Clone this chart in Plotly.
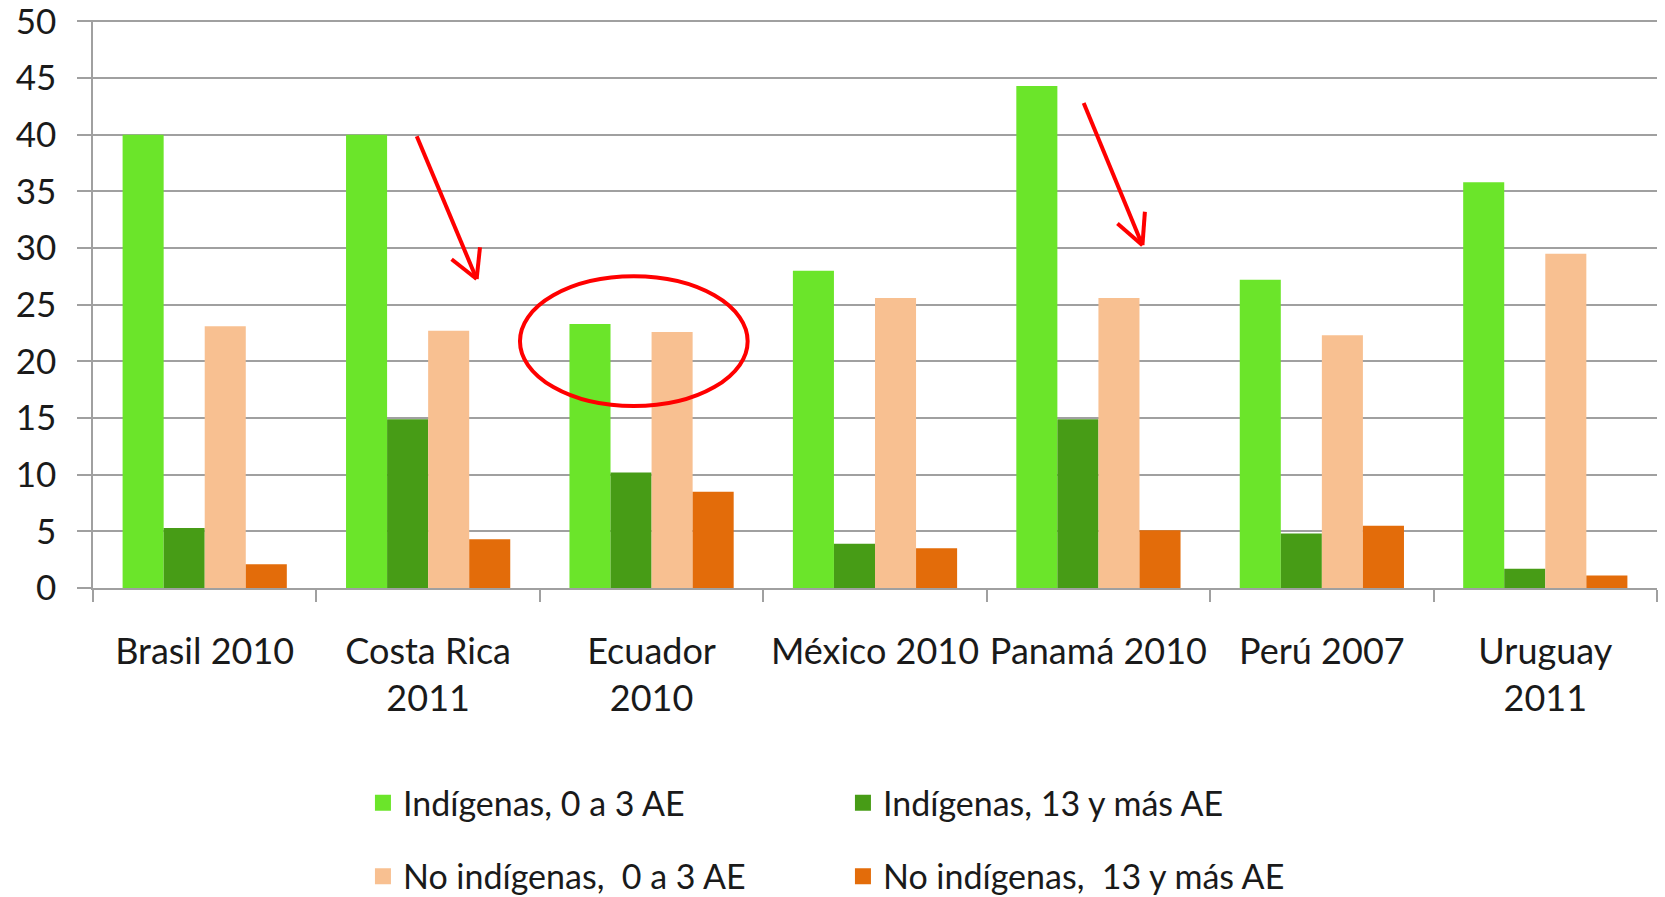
import plotly.graph_objects as go

countries = ["Brasil 2010", "Costa Rica 2011", "Ecuador 2010", "México 2010",
             "Panamá 2010", "Perú 2007", "Uruguay 2011"]
tick_labels = ["Brasil 2010", "Costa Rica<br>2011", "Ecuador<br>2010", "México 2010",
               "Panamá 2010", "Perú 2007", "Uruguay<br>2011"]

series_names = ["Indígenas, 0 a 3 AE", "Indígenas, 13 y más AE",
                "No indígenas,  0 a 3 AE", "No indígenas,  13 y más AE"]
ind_0_3 = [40.0, 40.0, 23.3, 28.0, 44.3, 27.2, 35.8]
ind_13 = [5.3, 14.9, 10.2, 3.9, 14.9, 4.8, 1.7]
noind_0_3 = [23.1, 22.7, 22.6, 25.6, 25.6, 22.3, 29.5]
noind_13 = [2.1, 4.3, 8.5, 3.5, 5.1, 5.5, 1.1]
colors = ["#6BE52A", "#479C16", "#F8C091", "#E36C0A"]

y_ticks = list(range(0, 51, 5))

FONT = "Lato"
GRID = "#A0A0A0"
RED = "#FF0000"

fig = go.Figure()
all_series = [ind_0_3, ind_13, noind_0_3, noind_13]
legends = ["legend", "legend", "legend2", "legend2"]
for name, vals, col, lg in zip(series_names, all_series, colors, legends):
    fig.add_trace(go.Bar(x=tick_labels, y=vals, name=name, marker=dict(color=col, line=dict(width=0)),
                         showlegend=False, legendgroup=name))
    fig.add_trace(go.Scatter(x=[None], y=[None], mode="markers", name=name, legendgroup=name,
                             marker=dict(symbol="square", size=16, color=col), legend=lg,
                             showlegend=True))

# annotations: red hand-drawn arrows (tail, tip, wing1, wing2) and ellipse
arrows = [
    ((0.949, 39.86), (1.217, 27.27), (1.105, 29.01), (1.232, 30.07)),
    ((3.934, 42.79), (4.197, 30.25), (4.085, 32.16), (4.208, 33.20)),
]
for tail, tip, w1, w2 in arrows:
    for start in (tail, w1, w2):
        fig.add_shape(type="line", xref="x", yref="y", x0=start[0], y0=start[1],
                      x1=tip[0], y1=tip[1], line=dict(color=RED, width=4))
fig.add_shape(type="circle", xref="x", yref="y", x0=1.411, x1=2.430, y0=16.05, y1=27.51,
              line=dict(color=RED, width=4))

fig.update_layout(
    width=1665, height=897,
    margin=dict(l=93, r=8, t=20, b=309, autoexpand=False),
    paper_bgcolor="white", plot_bgcolor="white",
    barmode="group", bargap=0.265, bargroupgap=0,
    font=dict(family=FONT, color="#1a1a1a", size=33),
    legend=dict(orientation="h", x=0.1726, xanchor="left", y=-0.379, yanchor="middle",
                entrywidth=435, font=dict(size=34, family=FONT), bgcolor="rgba(0,0,0,0)"),
    legend2=dict(orientation="h", x=0.1726, xanchor="left", y=-0.508, yanchor="middle",
                 entrywidth=435, font=dict(size=34, family=FONT), bgcolor="rgba(0,0,0,0)"),
)
fig.update_xaxes(type="category", tickson="boundaries", ticks="outside", ticklen=12,
                 tickcolor=GRID, tickwidth=1.5, showline=True, linecolor=GRID, linewidth=1.5,
                 showgrid=False, tickfont=dict(size=36, family=FONT), ticklabelstandoff=31,
                 tickangle=0)
fig.update_yaxes(range=[0, 50.12], tickvals=y_ticks, ticks="outside", ticklen=14, tickcolor=GRID,
                 tickwidth=1.5, showline=True, linecolor=GRID, linewidth=1.5, showgrid=True,
                 gridcolor=GRID, gridwidth=1.5, zeroline=False, ticklabeloverflow="allow",
                 tickfont=dict(size=35, family=FONT), ticklabelstandoff=14)

fig.write_html("out.html", config={"displayModeBar": False},
               post_script="document.body.style.margin='0';")
